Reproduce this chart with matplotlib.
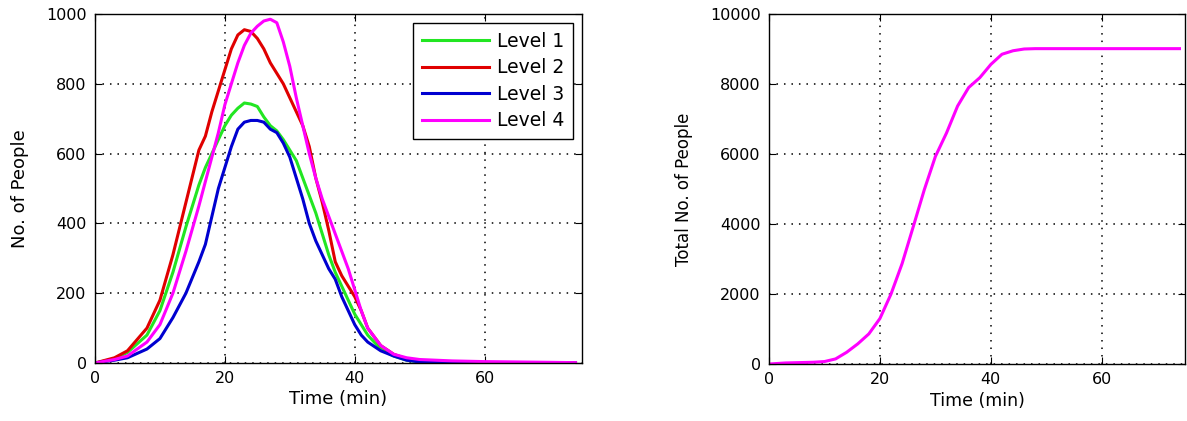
import matplotlib
matplotlib.use("Agg")
import matplotlib.pyplot as plt
import numpy as np

plt.rcParams['font.family'] = ['DejaVu Sans']

# Time axis (min) for per-level curves
t = [0, 3, 5, 8, 10, 12, 14, 16, 17, 18, 19, 20, 21, 22, 23, 24, 25, 26, 27, 28,
     29, 30, 31, 32, 33, 34, 35, 36, 37, 38, 39, 40, 41, 42, 44, 46, 48, 50, 55,
     60, 65, 70, 74]
level1 = [0, 12, 30, 80, 150, 260, 390, 510, 560, 600, 640, 680, 710, 730, 745, 742,
          735, 705, 680, 665, 640, 610, 580, 530, 480, 430, 370, 310, 260, 220, 180,
          140, 110, 80, 40, 20, 8, 3, 1, 0, 0, 0, 0]
level2 = [0, 15, 35, 100, 180, 310, 460, 610, 650, 720, 780, 840, 900, 940, 955, 950,
          930, 900, 860, 830, 800, 760, 720, 680, 620, 530, 460, 380, 290, 250, 220,
          190, 150, 100, 50, 25, 12, 5, 2, 1, 0, 0, 0]
level3 = [0, 8, 15, 40, 70, 130, 200, 290, 340, 420, 500, 560, 620, 670, 690, 695,
          695, 690, 670, 660, 630, 590, 530, 470, 400, 350, 310, 270, 240, 190, 150,
          110, 80, 60, 35, 20, 8, 3, 1, 0, 0, 0, 0]
level4 = [0, 10, 20, 60, 110, 200, 320, 450, 520, 590, 660, 740, 800, 860, 910, 945,
          965, 980, 985, 975, 920, 850, 760, 680, 600, 530, 470, 420, 370, 320, 270,
          210, 150, 100, 50, 25, 15, 10, 6, 4, 3, 2, 1]
level_names = ['Level 1', 'Level 2', 'Level 3', 'Level 4']

# Cumulative total
t_total = [0, 3, 8, 10, 12, 14, 16, 18, 20, 22, 24, 26, 28, 30, 32, 34, 36, 38, 40,
           42, 44, 46, 48, 50, 60, 74]
total = [0, 30, 50, 70, 145, 335, 575, 860, 1300, 2000, 2870, 3920, 4980, 5930, 6600,
         7370, 7900, 8180, 8560, 8850, 8950, 9000, 9010, 9010, 9010, 9010]

colors = ['#22e622', '#e00000', '#0000d0', '#ff00ff']

W, H = 1187, 421
fig = plt.figure(figsize=(W / 100, H / 100), dpi=100)
ax1 = fig.add_axes([95 / W, (H - 363) / H, 487 / W, 349 / H])
ax2 = fig.add_axes([769 / W, (H - 364) / H, 416 / W, 350 / H])

for ys, c, n in zip([level1, level2, level3, level4], colors, level_names):
    ax1.plot(t, ys, color=c, lw=2.2, label=n)

ax2.plot(t_total, total, color='#ff00ff', lw=2.2)

for ax, fs in ((ax1, 13), (ax2, 12.5)):
    ax.set_xlim(0, 75)
    ax.set_xticks([0, 20, 40, 60])
    ax.grid(True, linestyle=(0, (1, 3.9)), color='black', lw=1.1)
    ax.tick_params(direction='in', top=True, right=True, labelsize=11.5, length=5,
                   pad=6)
    for s in ax.spines.values():
        s.set_linewidth(1.0)
    ax.set_xlabel('Time (min)', fontsize=fs, labelpad=3)

ax1.set_ylim(0, 1000)
ax1.set_yticks([0, 200, 400, 600, 800, 1000])
ax1.set_ylabel('No. of People', fontsize=13, labelpad=12)
leg = ax1.legend(loc='upper right', fontsize=13.5, fancybox=False, edgecolor='black',
                 framealpha=1, handlelength=3.6, handletextpad=0.4, borderpad=0.45,
                 labelspacing=0.4, borderaxespad=0.5)
leg.get_frame().set_linewidth(1.0)

ax2.set_ylim(0, 10000)
ax2.set_yticks([0, 2000, 4000, 6000, 8000, 10000])
ax2.set_ylabel('Total No. of People', fontsize=12, labelpad=12)

fig.savefig('out.png', dpi=100)
